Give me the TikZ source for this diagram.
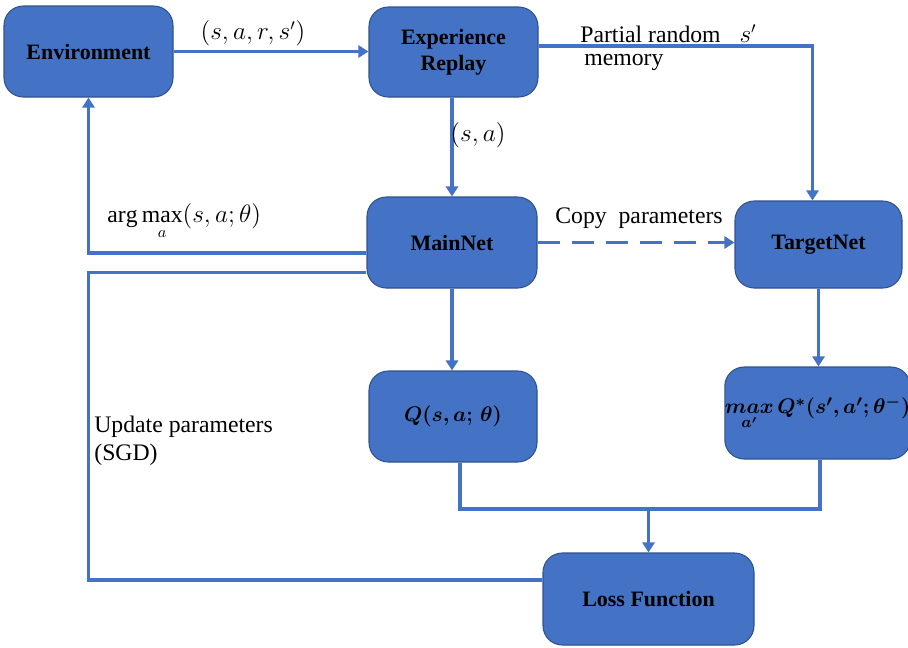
\documentclass[tikz,border=0pt]{standalone}
\usepackage{amsmath,bm}
\usepackage{fontspec}
\setmainfont{Liberation Serif}
\usetikzlibrary{arrows.meta,calc}
\newdimen\pxu
\pxu=0.02cm
\definecolor{boxblue}{HTML}{4472C4}
\definecolor{boxedge}{HTML}{2F528F}
\definecolor{linkblue}{HTML}{4472C4}
\tikzset{
  blk/.style={draw=boxedge, line width=0.6pt, fill=boxblue, rounded corners=11pt,
    align=center, font=\fontsize{12.5}{15}\selectfont\bfseries, text=black, inner sep=0pt},
  link/.style={draw=linkblue, line width=2pt},
  arr/.style={link, -{Triangle[length=5.8pt,width=7pt]}},
  lbl/.style={font=\fontsize{13.5}{16}\selectfont, text=black, inner sep=0pt}
}
\begin{document}
\begin{tikzpicture}[x=0.02cm,y=-0.02cm]
\useasboundingbox (0,0) rectangle (908,647);
% boxes
\node[blk, minimum width=169\pxu, minimum height=91\pxu] (env) at (88.5,51.5) {Environment};
\node[blk, minimum width=169\pxu, minimum height=90\pxu] (er) at (453.5,52) {Experience\\Replay};
\node[blk, minimum width=170\pxu, minimum height=91\pxu] (main) at (452,242.5) {MainNet};
\node[blk, minimum width=167\pxu, minimum height=87\pxu] (target) at (818.5,244.5) {TargetNet};
\node[blk, minimum width=168\pxu, minimum height=91\pxu] (q) at (453,416.5) {$\bm{Q(s,a;\,\theta)}$};
\node[blk, minimum width=179\pxu, minimum height=92\pxu] (maxq) at (817.5,413) {$\underset{\bm{a'}}{\bm{max}}\,\bm{Q^{*}(s',a';\theta^{-})}$};
\node[blk, minimum width=211\pxu, minimum height=92\pxu] (loss) at (648.5,599) {Loss Function};
% connectors
\draw[arr] (env.east) -- (env.east -| er.west);
\draw[arr] (er.south -| main.north) -- (main.north);
\draw[arr] ([yshift=6\pxu]er.east) -| ([xshift=-6\pxu]target.north);
\draw[arr] ([yshift=-10.5\pxu]main.west) -| (env.south);
\coordinate (upd) at ([yshift=-30\pxu]main.west);
\draw[link] ([yshift=19\pxu]loss.west) -| (env.south |- upd) -- (upd);
\draw[arr, dash pattern=on 22\pxu off 12\pxu] (main.east) -- (main.east -| target.west);
\draw[arr] (main.south) -- (main.south |- q.north);
\draw[arr] (target.south) -- (target.south |- maxq.north);
\coordinate (j) at (648.5,509);
\draw[link] ([xshift=7\pxu]q.south) |- (j) -| ([xshift=2.5\pxu]maxq.south);
\draw[arr] (j) -- (loss.north);
% labels
\node[lbl] (l1) at (253,33) {$(s,a,r,s')$};
\node[lbl, anchor=west] (l2) at (580,34) {Partial random};
\node[lbl, anchor=west] (l3) at (584,62) {memory};
\node[lbl] (l4) at (748,34) {$s'$};
\node[lbl] (l5) at (478,135) {$(s,a)$};
\node[lbl, anchor=west] (l6) at (107,222) {$\displaystyle\arg\max_{a}(s,a;\theta)$};
\node[lbl, anchor=west] (l7) at (555,218) {Copy\ \ parameters};
\node[lbl, anchor=north west, align=left] (l8) at (94,416) {Update parameters\\(SGD)};
\end{tikzpicture}
\end{document}
